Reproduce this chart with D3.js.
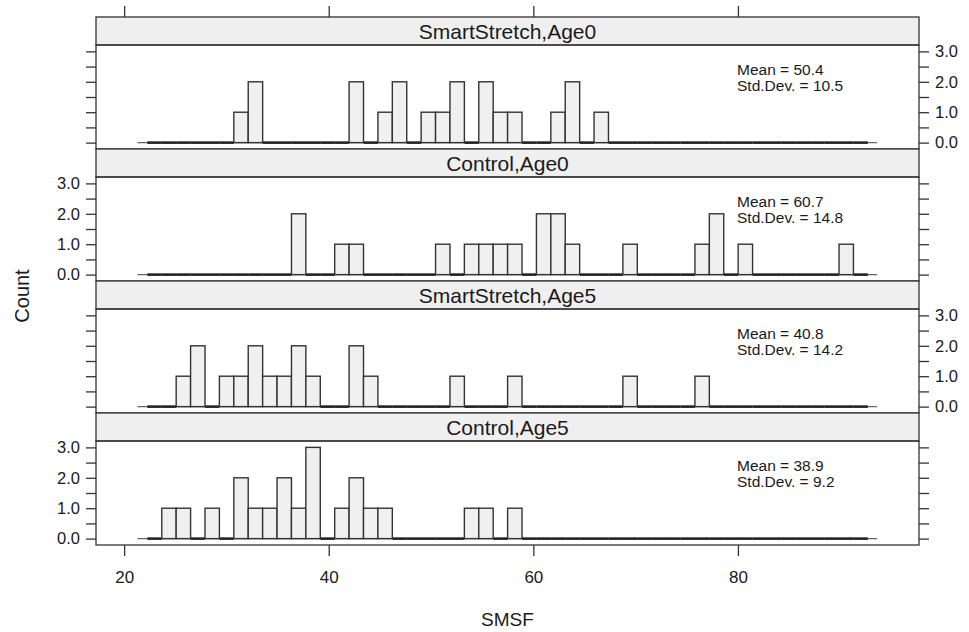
<!DOCTYPE html>
<html>
<head>
<meta charset="utf-8">
<script src="https://cdn.jsdelivr.net/npm/d3@7"></script>
<style>
  body { margin: 0; background: #fff; }
  svg text { font-family: "Liberation Sans", Arial, sans-serif; fill: #1a1a1a; }
</style>
</head>
<body>
<svg id="chart" width="969" height="632"></svg>
<script>
// panel names, top to bottom
var panels = ["SmartStretch,Age0", "Control,Age0", "SmartStretch,Age5", "Control,Age5"];

// histogram breaks: 50 equal bins
var breakStart = 22.27, binWidth = 1.4086, nBins = 50;

// non-zero bin counts per panel, as [bin index, count]
var countsSA0 = [[6,1],[7,2],[14,2],[16,1],[17,2],[19,1],[20,1],[21,2],[23,2],[24,1],[25,1],[28,1],[29,2],[31,1]];
var countsCA0 = [[10,2],[13,1],[14,1],[20,1],[22,1],[23,1],[24,1],[25,1],[27,2],[28,2],[29,1],[33,1],[38,1],[39,2],[41,1],[48,1]];
var countsSA5 = [[2,1],[3,2],[5,1],[6,1],[7,2],[8,1],[9,1],[10,2],[11,1],[14,2],[15,1],[21,1],[25,1],[33,1],[38,1]];
var countsCA5 = [[1,1],[2,1],[4,1],[6,2],[7,1],[8,1],[9,2],[10,1],[11,3],[13,1],[14,2],[15,1],[16,1],[22,1],[23,1],[25,1]];
var panelCounts = [countsSA0, countsCA0, countsSA5, countsCA5];

var means = ["50.4", "60.7", "40.8", "38.9"];
var sds = ["10.5", "14.8", "14.2", "9.2"];

var xTicks = [20, 40, 60, 80];
var yTicks = [0, 0.5, 1, 1.5, 2, 2.5, 3];
var yLabels = [0, 1, 2, 3];

function drawChart() {
    var svg = d3.select("#chart");
    var left = 96, right = 919, topY = 17, stripH = 28, plotH = 104;
    var block = stripH + plotH;
    var dark = "#333";

    var x = d3.scaleLinear().domain([17.25, 97.7]).range([left, right]);
    var y = d3.scaleLinear().domain([-0.21, 3.21]).range([plotH, 0]);

    function styleAxis(a, size) {
        a.select(".domain").remove();
        a.selectAll("line").attr("stroke", dark).attr("stroke-width", 1.3);
        a.selectAll("text").attr("font-family", null).attr("fill", "#1a1a1a").style("font-size", size);
    }

    panels.forEach(function(name, i) {
        var g = svg.append("g").attr("transform", "translate(0," + (topY + i * block) + ")");

        // strip
        g.append("rect")
            .attr("x", left).attr("y", 0)
            .attr("width", right - left).attr("height", stripH)
            .attr("fill", "#efefef").attr("stroke", dark).attr("stroke-width", 1.3);
        g.append("text")
            .attr("x", (left + right) / 2).attr("y", stripH / 2)
            .attr("dy", "0.36em").attr("text-anchor", "middle")
            .style("font-size", "21px")
            .text(name);

        var p = g.append("g").attr("transform", "translate(0," + stripH + ")");

        // reference line at zero
        p.append("line")
            .attr("x1", x(21.3)).attr("x2", x(93.6))
            .attr("y1", y(0)).attr("y2", y(0))
            .attr("stroke", "#666").attr("stroke-width", 1.3);

        // bins
        var lookup = {};
        panelCounts[i].forEach(function(d) { lookup[d[0]] = d[1]; });
        var bins = d3.range(nBins).map(function(k) {
            return {x0: breakStart + k * binWidth, x1: breakStart + (k + 1) * binWidth, n: lookup[k] || 0};
        });
        // empty bins collapse onto the zero line
        p.selectAll("line.empty")
            .data(bins.filter(function(d) { return d.n === 0; }))
            .enter().append("line")
            .attr("class", "empty")
            .attr("x1", function(d) { return x(d.x0); })
            .attr("x2", function(d) { return x(d.x1); })
            .attr("y1", y(0)).attr("y2", y(0))
            .attr("stroke", "#222").attr("stroke-width", 2.6);
        p.selectAll("rect.bar")
            .data(bins.filter(function(d) { return d.n > 0; }))
            .enter().append("rect")
            .attr("class", "bar")
            .attr("x", function(d) { return x(d.x0); })
            .attr("width", function(d) { return x(d.x1) - x(d.x0); })
            .attr("y", function(d) { return y(d.n); })
            .attr("height", function(d) { return y(0) - y(d.n); })
            .attr("fill", "#f0f0f0").attr("stroke", dark).attr("stroke-width", 1.4);

        // stats
        var st = p.append("text").style("font-size", "15.5px");
        st.append("tspan").attr("x", 737).attr("y", 30).text("Mean = " + means[i]);
        st.append("tspan").attr("x", 737).attr("y", 45.5).text("Std.Dev. = " + sds[i]);

        // panel border
        p.append("rect")
            .attr("x", left).attr("y", 0)
            .attr("width", right - left).attr("height", plotH)
            .attr("fill", "none").attr("stroke", dark).attr("stroke-width", 1.3);

        // y axes alternate between sides
        var labelLeft = (i % 2 === 1);
        var axL = d3.axisLeft(y).tickValues(yTicks).tickSize(10).tickPadding(6)
            .tickFormat(function(d) { return labelLeft && yLabels.indexOf(d) >= 0 ? d3.format(".1f")(d) : ""; });
        var axR = d3.axisRight(y).tickValues(yTicks).tickSize(10).tickPadding(6)
            .tickFormat(function(d) { return !labelLeft && yLabels.indexOf(d) >= 0 ? d3.format(".1f")(d) : ""; });
        styleAxis(p.append("g").attr("transform", "translate(" + left + ",0)").call(axL), "16.5px");
        styleAxis(p.append("g").attr("transform", "translate(" + right + ",0)").call(axR), "16.5px");
    });

    // top and bottom x axes
    styleAxis(svg.append("g").attr("transform", "translate(0," + topY + ")")
        .call(d3.axisTop(x).tickValues(xTicks).tickSize(11).tickFormat("")), "17px");
    var bottomY = topY + 4 * block;
    styleAxis(svg.append("g").attr("transform", "translate(0," + bottomY + ")")
        .call(d3.axisBottom(x).tickValues(xTicks).tickSize(11).tickPadding(15)), "17px");

    // axis titles
    svg.append("text")
        .attr("x", (left + right) / 2).attr("y", 626)
        .attr("text-anchor", "middle").style("font-size", "19px")
        .text("SMSF");
    svg.append("text")
        .attr("transform", "translate(29,296) rotate(-90)")
        .attr("text-anchor", "middle").style("font-size", "20px")
        .text("Count");
}

drawChart();
</script>
</body>
</html>
